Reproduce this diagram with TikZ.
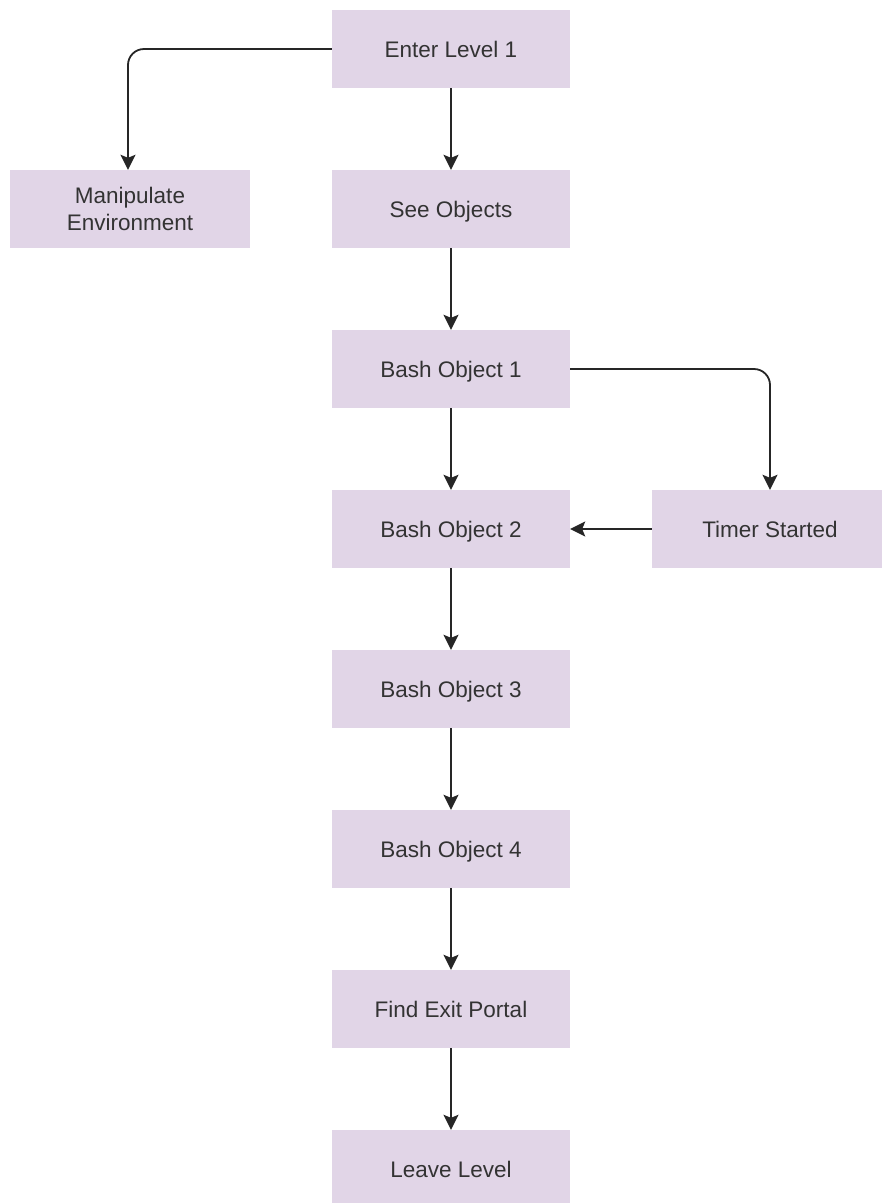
\documentclass[tikz,border=0pt]{standalone}
\usepackage{fontspec}
\setmainfont{Liberation Sans}
\usetikzlibrary{arrows.meta}
\definecolor{boxfill}{HTML}{E1D5E7}
\definecolor{txt}{HTML}{333333}
\begin{document}
\begin{tikzpicture}[x=1pt,y=-1pt,
  box/.style={fill=boxfill, draw=none, minimum width=238pt, minimum height=78pt,
    inner sep=0pt, align=center, text=txt, font=\fontsize{22.5}{27}\selectfont},
  oneline/.style={text height=16pt, text depth=0pt},
  arr/.style={line width=1.8pt, draw=black!85, rounded corners=16pt,
    -{Stealth[width=15pt,length=15pt,inset=3pt]}}]
\clip (0,0) rectangle (882,1203);
\fill[white] (0,0) rectangle (882,1203);
\node[box, oneline] (enter) at (451,49) {Enter Level 1};
\node[box, minimum width=240pt] (manip) at (130,209) {Manipulate\\Environment};
\node[box, oneline] (see) at (451,209) {See Objects};
\node[box, oneline] (b1) at (451,369) {Bash Object 1};
\node[box, oneline] (b2) at (451,529) {Bash Object 2};
\node[box, oneline, minimum width=236pt] (timer) at (770,529) {Timer Started};
\node[box, oneline] (b3) at (451,689) {Bash Object 3};
\node[box, oneline] (b4) at (451,849) {Bash Object 4};
\node[box, oneline] (exit) at (451,1009) {Find Exit Portal};
\node[box, oneline] (leave) at (451,1169) {Leave Level};
\draw[arr] (enter.south) -- (see.north);
\draw[arr] (enter.west) -| (manip.north -| 128,0);
\draw[arr] (see.south) -- (b1.north);
\draw[arr] (b1.south) -- (b2.north);
\draw[arr] (b1.east) -| (timer.north);
\draw[arr] (timer.west) -- (b2.east);
\draw[arr] (b2.south) -- (b3.north);
\draw[arr] (b3.south) -- (b4.north);
\draw[arr] (b4.south) -- (exit.north);
\draw[arr] (exit.south) -- (leave.north);
\end{tikzpicture}
\end{document}
